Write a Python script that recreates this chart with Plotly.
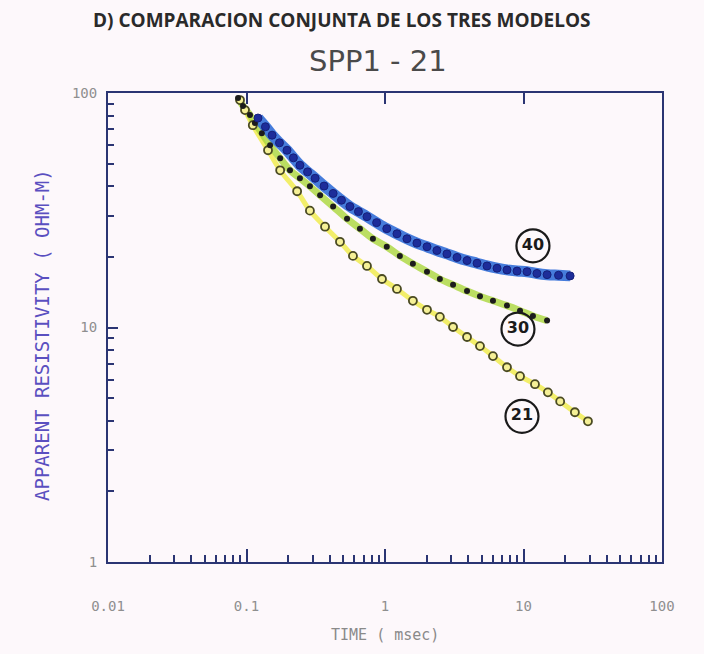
import plotly.graph_objects as go

# ---- data ----
t40 = [0.121, 0.137, 0.153, 0.173, 0.196, 0.218, 0.243, 0.276, 0.313, 0.363, 0.422, 0.485,
       0.558, 0.643, 0.741, 0.87, 1.03, 1.22, 1.44, 1.70, 2.01, 2.37, 2.80, 3.31, 3.91, 4.62,
       5.45, 6.44, 7.60, 8.98, 10.6, 12.5, 14.8, 17.9, 21.7]
rho40 = [78.2, 71.8, 66.1, 61.3, 57.0, 52.9, 49.2, 46.1, 43.3, 40.1, 37.3, 34.9,
         32.8, 31.2, 29.7, 28.0, 26.4, 25.1, 23.9, 22.9, 22.1, 21.3, 20.6, 19.9, 19.3, 18.8,
         18.3, 17.9, 17.6, 17.4, 17.3, 17.0, 16.8, 16.7, 16.6]

t30 = [0.0869, 0.0944, 0.106, 0.115, 0.129, 0.148, 0.175, 0.206, 0.243, 0.287, 0.340, 0.422,
       0.532, 0.659, 0.818, 1.03, 1.28, 1.59, 2.01, 2.49, 3.10, 3.91, 4.85, 6.02, 7.60, 9.44,
       11.7, 14.8]
rho30 = [95.2, 88.0, 80.5, 74.4, 67.4, 59.9, 52.7, 46.8, 43.3, 40.0, 36.6, 32.8,
         29.1, 26.4, 23.9, 22.1, 20.2, 18.7, 17.3, 16.1, 15.2, 14.3, 13.6, 13.0, 12.4, 11.8,
         11.2, 10.7]

t21 = [0.0898, 0.0975, 0.111, 0.143, 0.175, 0.232, 0.287, 0.369, 0.473, 0.587, 0.741, 0.951,
       1.22, 1.59, 2.01, 2.49, 3.10, 3.91, 4.85, 6.02, 7.60, 9.44, 12.1, 15.0, 18.4, 23.5, 29.2]
rho21 = [93.3, 84.6, 72.9, 57.0, 46.8, 38.1, 31.5, 26.9, 23.2, 20.2, 18.3, 16.1,
         14.6, 13.0, 11.9, 11.1, 10.05, 9.11, 8.33, 7.55, 6.77, 6.20, 5.73, 5.29, 4.84, 4.35, 3.98]

label_text = ["<b>40</b>", "<b>30</b>", "<b>21</b>"]
label_t = [11.7, 9.12, 9.75]
label_rho = [22.3, 9.85, 4.18]

x_tickvals = [0.01, 0.1, 1, 10, 100]
x_ticktext = ["0.01", "0.1", "1", "10", "100"]
y_tickvals = [1, 10, 100]
y_ticktext = ["1", "10", "100"]

fig = go.Figure()

# highlighter bands
fig.add_trace(go.Scatter(x=t21, y=rho21, mode="lines",
                         line=dict(color="rgba(240,236,80,0.85)", width=5, shape="spline"),
                         hoverinfo="skip", showlegend=False))
fig.add_trace(go.Scatter(x=t30, y=rho30, mode="lines",
                         line=dict(color="rgba(170,215,60,0.8)", width=7, shape="spline"),
                         hoverinfo="skip", showlegend=False))
fig.add_trace(go.Scatter(x=t40, y=rho40, mode="lines",
                         line=dict(color="rgba(50,110,215,0.9)", width=11, shape="spline"),
                         hoverinfo="skip", showlegend=False))

# data points
fig.add_trace(go.Scatter(x=t21, y=rho21, mode="markers",
                         marker=dict(symbol="circle", size=8, color="rgba(245,240,150,1)",
                                     line=dict(color="#4a4a22", width=1.8)),
                         showlegend=False))
fig.add_trace(go.Scatter(x=t30, y=rho30, mode="markers",
                         marker=dict(symbol="circle", size=6, color="#1c1c1c"),
                         showlegend=False))
fig.add_trace(go.Scatter(x=t40, y=rho40, mode="markers",
                         marker=dict(symbol="circle", size=8, color="#1d2d9a",
                                     line=dict(color="#15207a", width=1)),
                         showlegend=False))

# circled curve labels
fig.add_trace(go.Scatter(x=label_t, y=label_rho, mode="markers+text",
                         text=label_text, textposition="middle center",
                         textfont=dict(family="DejaVu Sans", size=16, color="#1a1a1a"),
                         marker=dict(symbol="circle-open", size=33,
                                     line=dict(color="#1a1a1a", width=2.2), color="#1a1a1a"),
                         xaxis="x2", showlegend=False, hoverinfo="skip"))

axis_col = "#2b3573"
tickfont = dict(family="DejaVu Sans Mono", size=14, color="#8f8f8f")

fig.update_layout(
    width=704, height=654,
    margin=dict(l=108, r=42, t=93, b=92),
    paper_bgcolor="#fdf8fb",
    plot_bgcolor="#fdf8fb",
    xaxis=dict(type="log", range=[-2, 2], tickvals=x_tickvals, ticktext=x_ticktext,
               ticks="inside", ticklen=13, tickwidth=1.5, tickcolor=axis_col,
               showgrid=False, zeroline=False, showline=True, linecolor=axis_col, linewidth=2,
               mirror=True, tickfont=tickfont, ticklabelstandoff=30,
               minor=dict(ticks="inside", ticklen=7, tickcolor=axis_col, dtick="D1",
                          showgrid=False)),
    xaxis2=dict(type="log", range=[-2, 2], overlaying="x", side="top", anchor="y",
                tickvals=[0.1, 1, 10], ticks="inside", ticklen=11, tickwidth=1.5,
                tickcolor=axis_col, showticklabels=False, showgrid=False, zeroline=False,
                showline=False),
    yaxis=dict(type="log", range=[0, 2], tickvals=y_tickvals, ticktext=y_ticktext,
               ticks="inside", ticklen=10, tickwidth=1.5, tickcolor=axis_col,
               showgrid=False, zeroline=False, showline=True, linecolor=axis_col, linewidth=2,
               mirror=True, tickfont=tickfont, ticklabelstandoff=6,
               minor=dict(ticks="inside", ticklen=6, tickcolor=axis_col, dtick="D1",
                          showgrid=False)),
    annotations=[
        dict(text="D) COMPARACION CONJUNTA DE LOS TRES MODELOS", xref="paper", yref="paper",
             x=(342 - 108) / 554, y=1 + (93 - 20) / 469, showarrow=False,
             font=dict(family="Open Sans", size=19, color="#2a2a2a", weight="bold"),
             xanchor="center", yanchor="middle"),
        dict(text="SPP1 - 21", xref="paper", yref="paper",
             x=(378 - 108) / 554, y=1 + (93 - 61) / 469, showarrow=False,
             font=dict(family="DejaVu Sans", size=29, color="#4a4a4a"),
             xanchor="center", yanchor="middle"),
        dict(text="APPARENT RESISTIVITY ( OHM-M)", xref="paper", yref="paper",
             x=(42 - 108) / 554, y=(562 - 335) / 469, textangle=-90, showarrow=False,
             font=dict(family="DejaVu Sans Mono", size=19, color="#5a4fc0"),
             xanchor="center", yanchor="middle"),
        dict(text="TIME ( msec)", xref="paper", yref="paper",
             x=(385 - 108) / 554, y=-(635 - 562) / 469, showarrow=False,
             font=dict(family="DejaVu Sans Mono", size=15, color="#8a8a8a"),
             xanchor="center", yanchor="middle"),
    ],
)

fig.write_html("out.html")
